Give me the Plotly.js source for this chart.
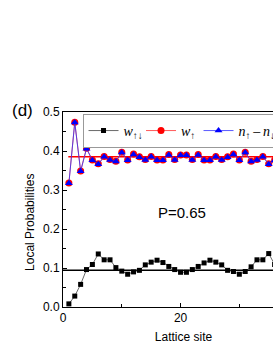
<!DOCTYPE html>
<html>
<head>
<meta charset="utf-8">
<script src="https://cdn.plot.ly/plotly-3.0.1.min.js"></script>
<style>
html,body{margin:0;padding:0;overflow:hidden;background:#fff;}
#chart{width:320px;height:353px;}
</style>
</head>
<body>
<div id="chart"></div>
<script>
// Lattice sites
const sites = [1,2,3,4,5,6,7,8,9,10,11,12,13,14,15,16,17,18,19,20,21,22,23,24,25,26,27,28,29,30,31,32,33,34,35,36,37,38,39,40];
// w_{up,down} (black squares)
const wUpDown = [0.008,0.028,0.058,0.096,0.109,0.136,0.121,0.121,0.101,0.092,0.084,0.090,0.094,0.108,0.115,0.120,0.114,0.104,0.096,0.089,
                 0.089,0.096,0.104,0.113,0.120,0.115,0.108,0.094,0.091,0.084,0.091,0.103,0.121,0.121,0.137,0.109,0.096,0.058,0.028,0.008];
// w_{up} (red circles)
const wUp = [0.318,0.474,0.349,0.407,0.377,0.367,0.386,0.378,0.374,0.397,0.377,0.392,0.385,0.378,0.386,0.377,0.377,0.391,0.378,0.390,
             0.390,0.378,0.391,0.377,0.377,0.386,0.378,0.385,0.392,0.377,0.397,0.374,0.378,0.386,0.367,0.377,0.407,0.349,0.474,0.318];
// n_up - n_down (blue triangles)
const nDiff = [0.317,0.473,0.348,0.406,0.376,0.366,0.385,0.377,0.373,0.396,0.376,0.391,0.384,0.377,0.385,0.376,0.376,0.390,0.377,0.389,
               0.389,0.377,0.390,0.376,0.376,0.385,0.377,0.384,0.391,0.376,0.396,0.373,0.377,0.385,0.366,0.376,0.406,0.348,0.473,0.317];
// average lines
const avgWUpDown = 0.094;
const avgWUp = 0.385;
const avgBlackX = [0, 41];
const avgRedX = [0.9, 41];
const xTicks = [0, 20];
const xMinor = [10, 30];
const yTicks = [0.0, 0.1, 0.2, 0.3, 0.4, 0.5];

const traces = [
  {x: avgBlackX, y: avgBlackX.map(()=>avgWUpDown), mode:'lines', line:{color:'#000', width:1.5}, showlegend:false, hoverinfo:'skip'},
  {x: avgRedX, y: avgRedX.map(()=>avgWUp), mode:'lines', line:{color:'#ff0000', width:1.5}, showlegend:false, hoverinfo:'skip'},
  {x: sites, y: wUpDown, mode:'lines+markers', name:'<i>w</i><sub>↑↓</sub>',
   line:{color:'#444', width:0.8}, marker:{symbol:'square', size:5, color:'#000'}},
  {x: sites, y: wUp, mode:'lines+markers', name:'<i>w</i><sub>↑</sub>',
   line:{color:'#ff3030', width:0.8}, marker:{symbol:'circle', size:7, color:'#ff0000'}},
  {x: sites, y: nDiff, mode:'lines+markers', name:'<i>n</i><sub>↑</sub>\u2009–\u2009<i>n</i><sub>↓</sub>', legendwidth:50,
   line:{color:'#3030ff', width:0.8}, marker:{symbol:'triangle-up', size:7, color:'#0000ff'}}
];

const axisFont = {family:'Liberation Sans, Arial, sans-serif', size:12, color:'#000'};
const layout = {
  width:320, height:353,
  margin:{l:63, r:16, t:112, b:46, pad:0},
  paper_bgcolor:'#fff', plot_bgcolor:'#fff',
  showlegend:true,
  xaxis:{range:[0,41], tickvals:xTicks, ticktext:xTicks.map(String), ticks:'inside', ticklen:4, tickcolor:'#000',
         minor:{tickvals:xMinor, ticks:'inside', ticklen:3, tickcolor:'#000'},
         showline:true, mirror:true, linecolor:'#000', linewidth:1, showgrid:false, zeroline:false,
         tickfont:axisFont, title:{text:'Lattice site', font:axisFont, standoff:8}},
  yaxis:{range:[0,0.5], tickvals:yTicks, ticktext:yTicks.map(v=>v.toFixed(1)), ticks:'inside', ticklen:4, tickcolor:'#000',
         minor:{dtick:0.05, ticks:'inside', ticklen:3, tickcolor:'#000'},
         showline:true, mirror:true, linecolor:'#000', linewidth:1, showgrid:false, zeroline:false,
         tickfont:axisFont},
  legend:{orientation:'h', x:0.081, y:0.99, xanchor:'left', yanchor:'top', bgcolor:'#fff', bordercolor:'#999', borderwidth:1,
          font:{family:'Liberation Serif, Times New Roman, serif', size:14, color:'#000'}, itemwidth:30, entrywidth:12.5},
  annotations:[
    {text:'Local Probabilities', xref:'paper', yref:'paper', x:-0.137, y:0.436, textangle:-90, showarrow:false,
     xanchor:'center', yanchor:'middle', font:axisFont},
    {text:'(d)', xref:'paper', yref:'paper', x:-0.166, y:1.01, showarrow:false, xanchor:'center', yanchor:'middle',
     font:{family:'Liberation Sans, Arial, sans-serif', size:17, color:'#000'}},
    {text:'P=0.65', xref:'paper', yref:'paper', x:0.495, y:0.485, showarrow:false, xanchor:'center', yanchor:'middle',
     font:{family:'Liberation Sans, Arial, sans-serif', size:15, color:'#000'}}
  ]
};
Plotly.newPlot('chart', traces, layout, {displayModeBar:false, staticPlot:true});
</script>
</body>
</html>
